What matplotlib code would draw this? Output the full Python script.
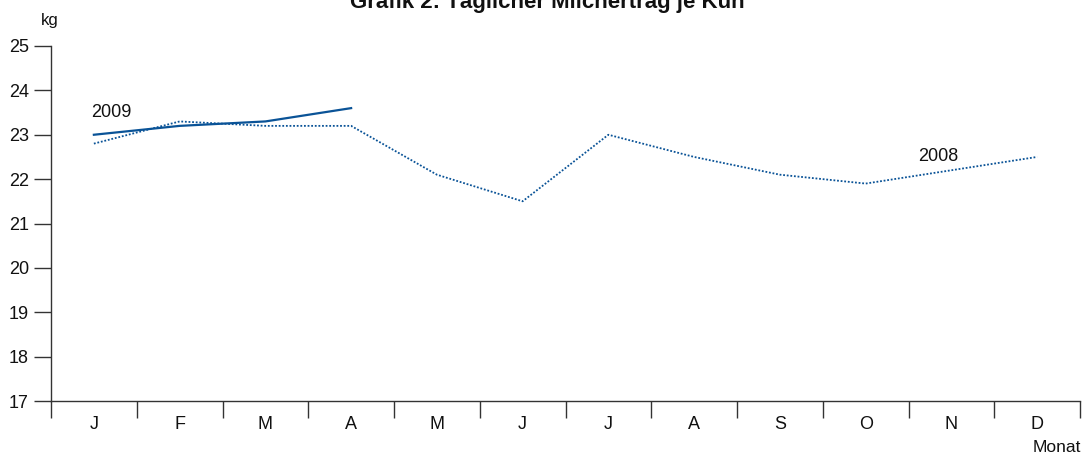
import matplotlib
matplotlib.use('Agg')

import matplotlib.pyplot as plt

# data
months = ['J', 'F', 'M', 'A', 'M', 'J', 'J', 'A', 'S', 'O', 'N', 'D']
milk_2008 = [22.8, 23.3, 23.2, 23.2, 22.1, 21.5, 23.0, 22.5, 22.1, 21.9, 22.2, 22.5]
milk_2009 = [23.0, 23.2, 23.3, 23.6]
yticks = [17, 18, 19, 20, 21, 22, 23, 24, 25]

LINE_COL = '#0a5397'
AX_COL = '#333333'

plt.rcParams['font.family'] = ['Liberation Sans', 'DejaVu Sans']

fig = plt.figure(figsize=(10.82, 4.59), dpi=100)
ax = fig.add_axes([51 / 1082, 58 / 459, 1029 / 1082, 355 / 459])

x08 = list(range(1, len(milk_2008) + 1))
x09 = list(range(1, len(milk_2009) + 1))
ax.plot(x08, milk_2008, color=LINE_COL, linestyle=(0, (1, 1)), linewidth=1.3)
ax.plot(x09, milk_2009, color=LINE_COL, linestyle='-', linewidth=1.6)

ax.set_xlim(0.5, 12.5)
ax.set_ylim(17, 25)

# spines
for s in ['top', 'right']:
    ax.spines[s].set_visible(False)
for s in ['left', 'bottom']:
    ax.spines[s].set_color(AX_COL)
    ax.spines[s].set_linewidth(1.0)

# y ticks
ax.set_yticks(yticks)
ax.tick_params(axis='y', direction='out', length=12, width=1.0, color=AX_COL,
               labelsize=13, pad=4, labelcolor='#111111')

# x ticks: boundaries as major, month labels as minor
ax.set_xticks([i + 0.5 for i in range(0, 13)])
ax.set_xticklabels([])
ax.tick_params(axis='x', which='major', direction='out', length=12, width=1.0, color=AX_COL)
ax.set_xticks(x08, minor=True)
ax.set_xticklabels(months, minor=True)
ax.tick_params(axis='x', which='minor', length=0, labelsize=13, pad=11, labelcolor='#111111')

# labels
fig.text(50 / 1082, 1 - 21 / 459, 'kg', fontsize=12, ha='center', va='center', color='#111111')
fig.text(1057 / 1082, 1 - 448 / 459, 'Monat', fontsize=12.5, ha='center', va='center', color='#111111')
ax.text(1.2, 23.5, '2009', fontsize=13, ha='center', va='center', color='#111111')
ax.text(10.85, 22.5, '2008', fontsize=13, ha='center', va='center', color='#111111')

# title, partly cut at the top like the source
fig.text(547 / 1082, 1 - 8 / 459, 'Grafik 2: Täglicher Milchertrag je Kuh', fontsize=16,
         fontweight='bold', ha='center', va='baseline', color='#111111')

plt.savefig('out.png', dpi=100)
plt.close('all')
